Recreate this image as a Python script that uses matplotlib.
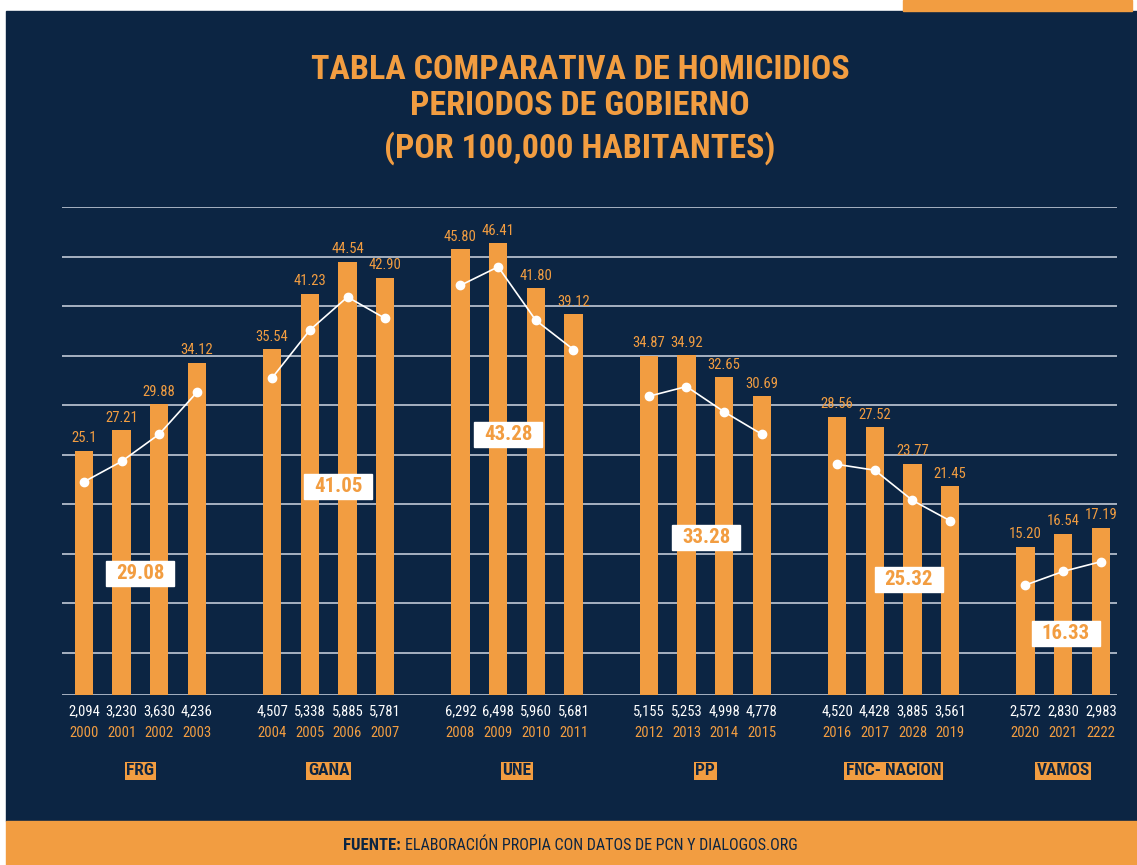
import numpy as np
import matplotlib
matplotlib.use("Agg")
import matplotlib.pyplot as plt
from matplotlib.patches import Rectangle

# data
years = ["2000", "2001", "2002", "2003", "2004", "2005", "2006", "2007",
         "2008", "2009", "2010", "2011", "2012", "2013", "2014", "2015",
         "2016", "2017", "2028", "2019", "2020", "2021", "2222"]
rates = [25.10, 27.21, 29.88, 34.12, 35.54, 41.23, 44.54, 42.90,
         45.80, 46.41, 41.80, 39.12, 34.87, 34.92, 32.65, 30.69,
         28.56, 27.52, 23.77, 21.45, 15.20, 16.54, 17.19]
rate_labels = ["25.1", "27.21", "29.88", "34.12", "35.54", "41.23", "44.54", "42.90",
               "45.80", "46.41", "41.80", "39.12", "34.87", "34.92", "32.65", "30.69",
               "28.56", "27.52", "23.77", "21.45", "15.20", "16.54", "17.19"]
counts = ["2,094", "3,230", "3,630", "4,236", "4,507", "5,338", "5,885", "5,781",
          "6,292", "6,498", "5,960", "5,681", "5,155", "5,253", "4,998", "4,778",
          "4,520", "4,428", "3,885", "3,561", "2,572", "2,830", "2,983"]
# white trend line (same scale as the bars)
trend = [21.9, 24.0, 26.8, 31.1, 32.6, 37.5, 40.9, 38.7,
         42.1, 44.0, 38.5, 35.5, 30.7, 31.7, 29.1, 26.8,
         23.7, 23.1, 20.0, 17.9, 11.3, 12.7, 13.7]
parties = ["FRG", "GANA", "UNE", "PP", "FNC- NACION", "VAMOS"]
group_sizes = [4, 4, 4, 4, 4, 3]
averages = ["29.08", "41.05", "43.28", "33.28", "25.32", "16.33"]
avg_pos = [(1.49, 12.5), (6.75, 21.4), (11.26, 26.8), (16.52, 16.2), (21.9, 11.9), (26.07, 6.3)]

NAVY = "#0c2543"
ORANGE = "#f29d41"
plt.rcParams["font.family"] = ["Roboto Condensed", "DejaVu Sans"]
plt.rcParams["font.stretch"] = "condensed"

W, H = 1137, 865
fig = plt.figure(figsize=(W / 100, H / 100), dpi=100)
fig.patch.set_facecolor("white")

def px(x, y):
    return x / W, 1 - y / H

# background blocks
fig.patches.append(Rectangle(px(6, 821), (W - 6) / W, 810 / H, transform=fig.transFigure, color=NAVY, zorder=-5))
fig.patches.append(Rectangle(px(6, 865), (W - 6) / W, 44 / H, transform=fig.transFigure, color=ORANGE, zorder=-5))
fig.patches.append(Rectangle(px(903, 11), 229 / W, 11 / H, transform=fig.transFigure, color=ORANGE, zorder=-5))

# title
for txt, y in [("TABLA COMPARATIVA DE HOMICIDIOS", 70), ("PERIODOS DE GOBIERNO", 106),
               ("(POR 100,000 HABITANTES)", 148)]:
    fig.text(*px(580, y), txt, ha="center", va="center", color=ORANGE,
             fontsize=24.5, fontweight="bold")

# positions: one empty slot between groups
xpos = []
g_start = 0
for gi, n in enumerate(group_sizes):
    for k in range(n):
        xpos.append(g_start + gi + k)
    g_start += n
xpos = np.array(xpos, dtype=float)

ax = fig.add_axes([62 / W, 170 / H, 1055 / W, 488 / H])
ax.set_facecolor("none")
ax.set_xlim(-0.58, 27.43)
ax.set_ylim(0, 50.15)
ax.axis("off")

for g in np.linspace(4.32, 50.15, 10):
    ax.axhline(g, color="#b3bccb", lw=1.3, zorder=1)
ax.axhline(0, color="#b3bccb", lw=1.3, zorder=1)

ax.bar(xpos, rates, width=0.48, color=ORANGE, zorder=2)

for x, r, lab, c, yr in zip(xpos, rates, rate_labels, counts, years):
    ax.text(x, r + 1.3, lab, ha="center", va="center", color=ORANGE, fontsize=10.5)
    ax.text(x, -1.65, c, ha="center", va="center", color="white", fontsize=10.5, clip_on=False)
    ax.text(x, -3.9, yr, ha="center", va="center", color=ORANGE, fontsize=10.5, clip_on=False)

start = 0
for gi, n in enumerate(group_sizes):
    sl = slice(start, start + n)
    ax.plot(xpos[sl], trend[sl], color="white", lw=1.2, marker="o", ms=6, zorder=3)
    cx = xpos[sl].mean()
    ax.text(cx, -7.8, parties[gi], ha="center", va="center", color=NAVY, fontsize=12.5,
            fontweight="bold", clip_on=False,
            bbox=dict(boxstyle="square,pad=0.1", fc=ORANGE, ec="none"))
    bx, by = avg_pos[gi]
    ax.add_patch(Rectangle((bx - 0.9, by - 1.28), 1.8, 2.56, color="white", zorder=4))
    ax.text(bx, by, averages[gi], ha="center", va="center", color=ORANGE, fontsize=15,
            fontweight="bold", zorder=5)
    start += n

# footer
fig.text(*px(401, 845), "FUENTE:", ha="right", va="center", color=NAVY, fontsize=12,
         fontweight="bold")
fig.text(*px(405, 845), "ELABORACIÓN PROPIA CON DATOS DE PCN Y DIALOGOS.ORG", ha="left",
         va="center", color=NAVY, fontsize=11.5)

fig.savefig("out.png", dpi=100, facecolor=fig.get_facecolor())
